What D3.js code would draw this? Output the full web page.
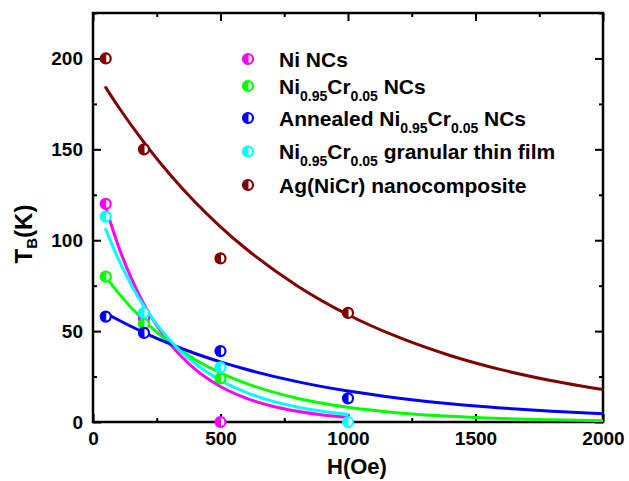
<!DOCTYPE html>
<html>
<head>
<meta charset="utf-8">
<script src="https://cdn.jsdelivr.net/npm/d3@7"></script>
<style>
  html, body { margin: 0; padding: 0; background: #fff; }
  svg { display: block; font-family: "Liberation Sans", Arial, sans-serif; font-weight: bold; }
</style>
</head>
<body>
<svg id="chart" width="629" height="481"></svg>
<script>
// ---------- data ----------
const xMajorTicks = [0, 500, 1000, 1500, 2000];
const xMinorTicks = [250, 750, 1250, 1750];
const yMajorTicks = [0, 50, 100, 150, 200];
const yMinorTicks = [25, 75, 125, 175, 225];

// measured points (H in Oe, T_B in K)
const niX = [50, 200, 500];
const niY = [120, 57, 0];
const nicrX = [50, 200, 500];
const nicrY = [80, 54, 24];
const annealX = [50, 200, 500, 1000];
const annealY = [58, 49, 39, 13];
const filmX = [50, 200, 500, 1000];
const filmY = [113, 60, 30, 0];
const agX = [50, 200, 500, 1000];
const agY = [200, 150, 90, 60];

// fitted curves
const shortFitX = [50, 100, 150, 200, 300, 400, 500, 600, 700, 800, 900, 1000];
const niFitY   = [118, 96.6, 79.1, 64.7, 43.4, 29.1, 19.5, 13.1, 8.8, 5.9, 3.9, 2.6];
const filmFitY = [106, 89.4, 75.4, 63.6, 45.3, 32.2, 22.9, 16.3, 11.6, 8.3, 5.9, 4.2];
const longFitX = [50, 100, 200, 300, 400, 500, 600, 800, 1000, 1200, 1400, 1600, 1800, 2000];
const nicrFitY   = [80, 70.9, 55.7, 43.8, 34.4, 27.0, 21.2, 13.1, 8.1, 5.0, 3.1, 1.9, 1.2, 0.7];
const annealFitY = [60, 56.1, 49.2, 43.1, 37.7, 33.1, 29.0, 22.2, 17.0, 13.1, 10.0, 7.7, 5.9, 4.5];
const agFitY     = [184, 173.3, 153.8, 136.4, 121.0, 107.4, 95.3, 75.0, 59.0, 46.5, 36.6, 28.8, 22.7, 17.8];

// legend labels: [text, isSubscript] parts
const legendLabels = [
  [["Ni NCs", false]],
  [["Ni", false], ["0.95", true], ["Cr", false], ["0.05", true], [" NCs", false]],
  [["Annealed Ni", false], ["0.95", true], ["Cr", false], ["0.05", true], [" NCs", false]],
  [["Ni", false], ["0.95", true], ["Cr", false], ["0.05", true], [" granular thin film", false]],
  [["Ag(NiCr) nanocomposite", false]]
];
const seriesColors = ["#ff00ff", "#00ff00", "#0000ff", "#00ffff", "#800000"];

// ---------- build series ----------
const zip = (xs, ys) => xs.map((x, i) => ({x: x, y: ys[i]}));
const series = [
  {pts: zip(niX, niY),         fit: zip(shortFitX, niFitY)},
  {pts: zip(nicrX, nicrY),     fit: zip(longFitX, nicrFitY)},
  {pts: zip(annealX, annealY), fit: zip(longFitX, annealFitY)},
  {pts: zip(filmX, filmY),     fit: zip(shortFitX, filmFitY)},
  {pts: zip(agX, agY),         fit: zip(longFitX, agFitY)}
].map((s, i) => Object.assign(s, {color: seriesColors[i], label: legendLabels[i]}));

// ---------- layout ----------
const svg = d3.select("#chart");
const L = 93, R = 603, T = 13, B = 422;
const x = d3.scaleLinear().domain([0, 2000]).range([L, R]);
const y = d3.scaleLinear().domain([0, 225]).range([B, T]);

const tickFont = 19;

function styleAxis(g) {
  g.select(".domain").remove();
  g.selectAll(".tick line").attr("stroke", "#000").attr("stroke-width", 2);
  g.selectAll(".tick text").attr("fill", "#000").attr("font-size", tickFont)
    .attr("font-weight", "bold").attr("font-family", "'Liberation Sans', Arial, sans-serif");
}

// major ticks with labels
svg.append("g").attr("transform", `translate(0,${B})`)
  .call(d3.axisBottom(x).tickValues(xMajorTicks).tickSize(-8).tickPadding(10).tickFormat(d3.format("d")))
  .call(styleAxis);
svg.append("g").attr("transform", `translate(${L},0)`)
  .call(d3.axisLeft(y).tickValues(yMajorTicks).tickSize(-8).tickPadding(10).tickFormat(d3.format("d")))
  .call(styleAxis);
// mirrored major ticks without labels
svg.append("g").attr("transform", `translate(0,${T})`)
  .call(d3.axisTop(x).tickValues(xMajorTicks).tickSize(-8).tickFormat(""))
  .call(styleAxis);
svg.append("g").attr("transform", `translate(${R},0)`)
  .call(d3.axisRight(y).tickValues(yMajorTicks).tickSize(-8).tickFormat(""))
  .call(styleAxis);
// minor ticks
svg.append("g").attr("transform", `translate(0,${B})`)
  .call(d3.axisBottom(x).tickValues(xMinorTicks).tickSize(-4).tickFormat("")).call(styleAxis);
svg.append("g").attr("transform", `translate(0,${T})`)
  .call(d3.axisTop(x).tickValues(xMinorTicks).tickSize(-4).tickFormat("")).call(styleAxis);
svg.append("g").attr("transform", `translate(${L},0)`)
  .call(d3.axisLeft(y).tickValues(yMinorTicks).tickSize(-4).tickFormat("")).call(styleAxis);
svg.append("g").attr("transform", `translate(${R},0)`)
  .call(d3.axisRight(y).tickValues(yMinorTicks).tickSize(-4).tickFormat("")).call(styleAxis);

// frame
svg.append("rect").attr("x", L).attr("y", T).attr("width", R - L).attr("height", B - T)
  .attr("fill", "none").attr("stroke", "#000").attr("stroke-width", 2.5);

// clip
svg.append("clipPath").attr("id", "clip").append("rect")
  .attr("x", L).attr("y", T).attr("width", R - L).attr("height", B - T);

// fit curves
const line = d3.line().x(d => x(d.x)).y(d => y(d.y)).curve(d3.curveMonotoneX);
const curves = svg.append("g").attr("clip-path", "url(#clip)");
series.forEach(s => {
  curves.append("path").datum(s.fit).attr("d", line)
    .attr("fill", "none").attr("stroke", s.color).attr("stroke-width", 3)
    .attr("stroke-linejoin", "round").attr("stroke-linecap", "round");
});

// half-filled circle marker
const mr = 5;
function marker(g, cx, cy, color) {
  g.append("circle").attr("cx", cx).attr("cy", cy).attr("r", mr)
    .attr("fill", "#fff").attr("stroke", color).attr("stroke-width", 2.2);
  g.append("path")
    .attr("d", `M${cx},${cy - mr} A${mr},${mr} 0 0 0 ${cx},${cy + mr} Z`)
    .attr("fill", color).attr("stroke", color).attr("stroke-width", 1);
}
const pts = svg.append("g");
series.forEach(s => {
  s.pts.forEach(p => marker(pts, x(p.x), y(p.y), s.color));
});

// legend
const legendY = [59, 86, 118, 151.5, 185];
const leg = svg.append("g");
series.forEach((s, i) => {
  marker(leg, 248, legendY[i], s.color);
  const t = leg.append("text").attr("x", 279).attr("y", legendY[i] + 7.5)
    .attr("font-size", 21).attr("fill", "#000");
  let sub = false;
  s.label.forEach(([txt, isSub]) => {
    const ts = t.append("tspan").text(txt);
    if (isSub && !sub) { ts.attr("font-size", 14).attr("dy", 7); sub = true; }
    else if (!isSub && sub) { ts.attr("dy", -7); sub = false; }
  });
});

// axis titles
svg.append("text").attr("x", 357).attr("y", 474).attr("text-anchor", "middle")
  .attr("font-size", 22).attr("fill", "#000").text("H(Oe)");

const yt = svg.append("text").attr("transform", "translate(32,234) rotate(-90)")
  .attr("text-anchor", "middle").attr("font-size", 24).attr("fill", "#000");
yt.append("tspan").text("T");
yt.append("tspan").attr("font-size", 15).attr("dy", 5).text("B");
yt.append("tspan").attr("dy", -5).text("(K)");
</script>
</body>
</html>
